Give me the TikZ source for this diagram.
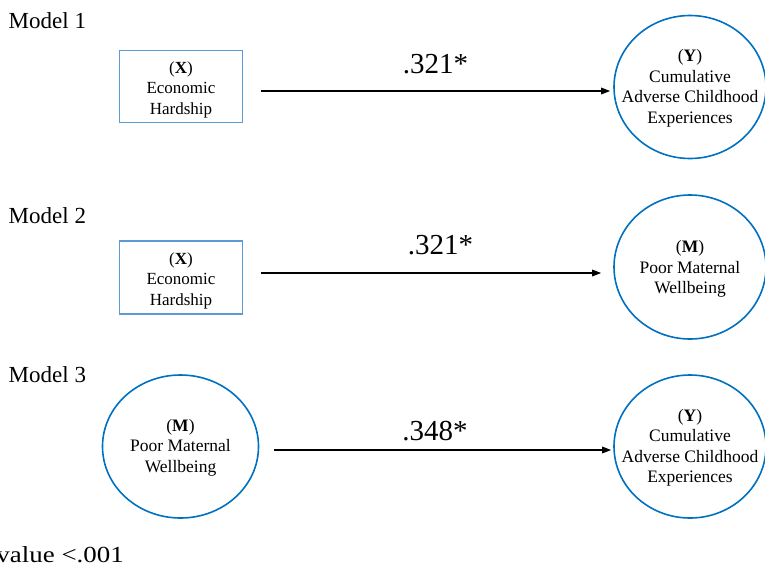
\documentclass[tikz,border=0pt]{standalone}
\usepackage{fontspec}
\setmainfont{Liberation Serif}
\usetikzlibrary{shapes.geometric,arrows.meta}
\definecolor{boxblue}{HTML}{5B9BD5}
\definecolor{ellblue}{HTML}{0070C0}
\tikzset{
  varbox/.style={draw=boxblue, line width=1.2pt, minimum width=123pt, minimum height=72pt, inner sep=0pt},
  boxtext/.style={align=center, inner sep=0pt, font=\fontsize{17}{20.5}\selectfont},
  varell/.style={ellipse, draw=ellblue, line width=1.6pt, inner sep=0pt},
  elltext/.style={align=center, inner sep=0pt, font=\fontsize{17.5}{20.5}\selectfont},
  arr/.style={-{Triangle[length=9pt,width=6.5pt]}, line width=1.5pt, black},
  coef/.style={anchor=base, font=\fontsize{29}{32}\selectfont},
  modellbl/.style={anchor=base west, font=\fontsize{23}{26}\selectfont, inner sep=0pt}
}
\begin{document}
\begin{tikzpicture}[x=1pt,y=-1pt]
\useasboundingbox (0,0) rectangle (765,573);
\clip (0,0) rectangle (765,573);
% Model 1
\node[modellbl] (m1) at (8.5,28) {Model 1};
\node[varbox, label={[boxtext, yshift=-3pt]center:(\textbf{X})\\Economic\\Hardship}] (b1) at (181,86.7) {};
\node[varell, minimum width=152pt, minimum height=143pt,
  label={[elltext, yshift=-1.5pt]center:(\textbf{Y})\\Cumulative\\Adverse Childhood\\Experiences}] (e1) at (690,87) {};
\draw[arr, shorten <=17.5pt, shorten >=3pt] ([yshift=-4.3pt]b1.east) -- ([yshift=-4pt]e1.west);
\node[coef] (c1) at (435.5,73) {.321*};
% Model 2
\node[modellbl] (m2) at (8.5,223) {Model 2};
\node[varbox, minimum height=73pt, label={[boxtext, yshift=-3pt]center:(\textbf{X})\\Economic\\Hardship}] (b2) at (181,277.5) {};
\node[varell, minimum width=152pt, minimum height=144pt,
  label={[elltext, yshift=-2pt]center:(\textbf{M})\\Poor Maternal\\Wellbeing}] (e2) at (690,267) {};
\draw[arr, shorten <=17.5pt, shorten >=12pt] ([yshift=4.5pt]b2.east) -- ([yshift=-6pt]e2.west);
\node[coef] (c2) at (440.5,254) {.321*};
% Model 3
\node[modellbl] (m3) at (8.5,382) {Model 3};
\node[varell, minimum width=156pt, minimum height=143pt,
  label={[elltext, yshift=-1pt]center:(\textbf{M})\\Poor Maternal\\Wellbeing}] (e3) at (180.5,446.5) {};
\node[varell, minimum width=152pt, minimum height=143pt,
  label={[elltext, yshift=-1.5pt]center:(\textbf{Y})\\Cumulative\\Adverse Childhood\\Experiences}] (e4) at (690,446.5) {};
\draw[arr, shorten <=14.5pt, shorten >=2pt] ([yshift=-3.5pt]e3.east) -- ([yshift=-3.5pt]e4.west);
\node[coef] (c3) at (435,440) {.348*};
% note
\node[anchor=base east, inner sep=0pt, font=\fontsize{23}{26}\selectfont, xscale=1.17] (note) at (124,562) {value <.001};
\end{tikzpicture}
\end{document}
